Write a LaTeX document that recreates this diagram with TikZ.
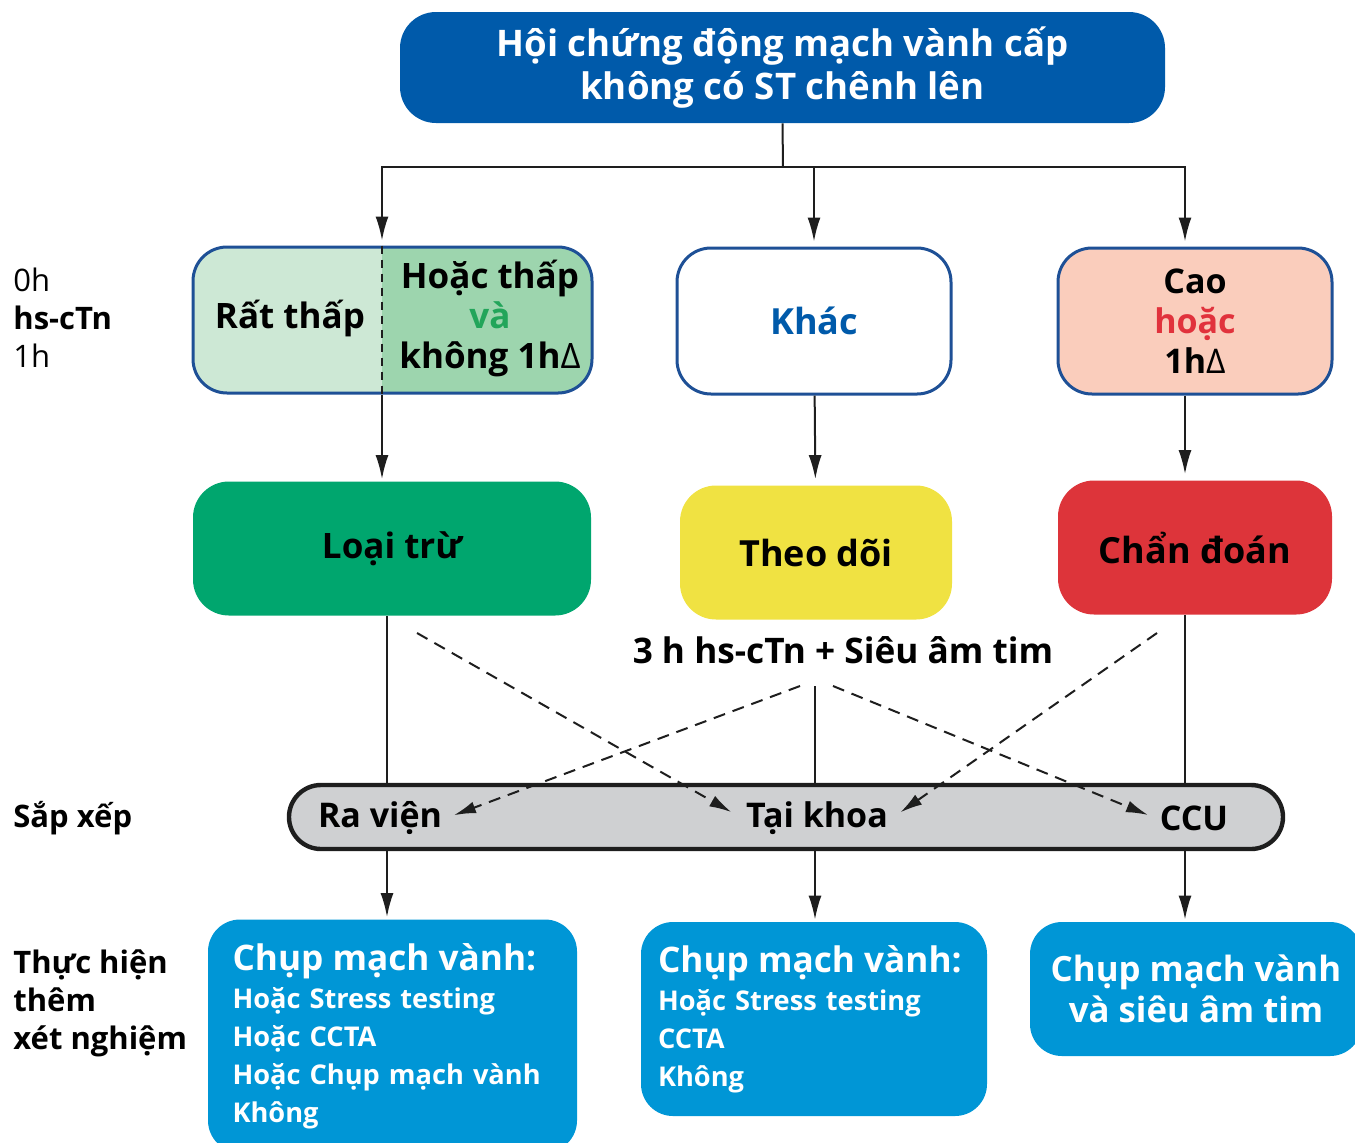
\documentclass[tikz,border=0pt]{standalone}
\usepackage{fontspec}
\setmainfont{Open Sans}
\usetikzlibrary{arrows.meta, positioning}
\definecolor{titleblue}{RGB}{0,90,170}
\definecolor{boxblue}{RGB}{30,80,150}
\definecolor{palegreen}{RGB}{205,232,213}
\definecolor{midgreen}{RGB}{157,213,174}
\definecolor{andgreen}{RGB}{34,165,90}
\definecolor{palered}{RGB}{250,205,188}
\definecolor{orred}{RGB}{225,50,60}
\definecolor{outgreen}{RGB}{0,166,110}
\definecolor{obsyellow}{RGB}{240,226,66}
\definecolor{inred}{RGB}{221,52,58}
\definecolor{bargray}{RGB}{207,208,210}
\definecolor{testblue}{RGB}{0,150,214}
\definecolor{ink}{RGB}{30,30,30}

\begin{document}
\begin{tikzpicture}[x=0.5pt, y=-0.5pt,
		font=\bfseries\color{ink},
		riskbox/.style={draw=boxblue, line width=1.5pt, rounded corners=17pt,
			minimum width=137pt, minimum height=73pt, inner sep=0pt, align=center,
			font=\bfseries\fontsize{17}{20}\selectfont},
		resbox/.style={rounded corners=18pt, minimum width=136pt, minimum height=67pt,
			inner sep=0pt, font=\bfseries\fontsize{17.5}{20}\selectfont},
		testbox/.style={fill=testblue, rounded corners=16pt, inner ysep=0pt,
			text=white, font=\bfseries\fontsize{13.6}{19}\selectfont},
		sidelabel/.style={anchor=west, align=left, inner sep=0pt,
			font=\bfseries\fontsize{15.5}{19}\selectfont},
		placelabel/.style={inner sep=2pt, font=\bfseries\fontsize{17}{20}\selectfont},
		line/.style={line width=1pt, draw=ink},
		arrow/.style={-{Latex[length=12pt, width=6.5pt]}, line width=1pt, draw=ink},
		dasharrow/.style={-{Latex[length=11pt, width=6pt]}, line width=1pt, draw=ink,
			dash pattern=on 6pt off 4pt}
	]
		\useasboundingbox (0,0) rectangle (1355,1142);
		\clip (0,0) rectangle (1355,1142);

		\node[fill=titleblue, rounded corners=18pt, minimum width=382.5pt, minimum height=55.5pt,
			inner sep=0pt, align=center, text=white, font=\bfseries\fontsize{18.3}{21.5}\selectfont]
			(title) at (782.5,67.5) {Hội chứng động mạch vành cấp\\không có ST chênh lên};

		\node[riskbox, fill=palegreen, minimum width=199.5pt,
			path picture={\fill[midgreen, sharp corners] ([xshift=-5.25pt]path picture bounding box.north)
				rectangle (path picture bounding box.south east);}]
			(lowbox) at (392.5,320) {};
		\node[font=\bfseries\fontsize{17.5}{20}\selectfont] (verylow) at (290,318) {Rất thấp};
		\node[align=center, font=\bfseries\fontsize{17.5}{20}\selectfont] (low) at (490,318)
			{Hoặc thấp\\\textcolor{andgreen}{và}\\không 1h{\mdseries Δ}};
		\node[riskbox, fill=white, text=titleblue, font=\bfseries\fontsize{18}{20}\selectfont]
			(other) at (814,321) {Khác};
		\node[riskbox, fill=palered] (high) at (1195,321)
			{Cao\\\textcolor{orred}{hoặc}\\1h{\mdseries Δ}};

		\node[resbox, fill=outgreen, minimum width=199pt] (ruleout) at (392,548.5) {Loại trừ};
		\node[resbox, fill=obsyellow, font=\bfseries\fontsize{18}{20}\selectfont] (observe) at (816,552.5) {Theo dõi};
		\node[resbox, fill=inred, minimum width=137pt, font=\bfseries\fontsize{18}{20}\selectfont] (rulein) at (1195,547.5) {Chẩn đoán};

		\node[font=\bfseries\fontsize{17.6}{20}\selectfont] (followup) at (843,650)
			{3 h hs-cTn + Siêu âm tim};

		\node[draw=ink, line width=2.2pt, fill=bargray, rounded corners=16pt,
			minimum width=497pt, minimum height=32pt] (dispo) at (786,817) {};
		\node[placelabel] (discharge) at (380,818) {Ra viện};
		\node[placelabel] (ward) at (817,818) {Tại khoa};
		\node[placelabel] (ccu) at (1194,818) {CCU};

		\node[testbox, minimum width=184.5pt, minimum height=116.5pt, text width=160pt,
			inner xsep=12.25pt, align=left] (testA) at (392.5,1036)
			{{\fontsize{17.6}{20}\selectfont Chụp mạch vành:}\\Hoặc Stress testing\\Hoặc CCTA\\
			Hoặc Chụp mạch vành\\Không};
		\node[testbox, minimum width=173pt, minimum height=97pt, text width=156pt,
			inner xsep=8.5pt, align=left] (testB) at (814,1019)
			{{\fontsize{17.6}{20}\selectfont Chụp mạch vành:}\\Hoặc Stress testing\\CCTA\\Không};
		\node[testbox, minimum width=166pt, minimum height=67pt, inner xsep=0pt, align=center,
			font=\bfseries\fontsize{17.4}{20.5}\selectfont] (testC) at (1196,989)
			{Chụp mạch vành\\và siêu âm tim};

		\node[sidelabel] (labtime) at (13,318)
			{{\mdseries 0h}\\hs-cTn\\{\mdseries 1h}};
		\node[sidelabel] (labdispo) at (13,818) {Sắp xếp};
		\node[sidelabel] (labtest) at (13,1003) {Thực hiện\\thêm\\xét nghiệm};

		\coordinate (split) at (783,167);
		\coordinate (divtop) at ([xshift=-5.25pt]lowbox.north);
		\coordinate (divbot) at ([xshift=-5.25pt]lowbox.south);
		\coordinate (hightop) at ([xshift=-5pt]high.north);
		\coordinate (outA) at (417,633);
		\coordinate (outC) at (1157,633);
		\coordinate (forkL) at (800,686);
		\coordinate (forkM) at (815,686);
		\coordinate (forkR) at (833,686);

		\draw[line] (title.south) -- (split);
		\draw[arrow, shorten >=2.5pt] (split) -| (divtop);
		\draw[arrow, shorten >=2.5pt] (split) -| (other.north);
		\draw[arrow, shorten >=2.5pt] (split) -| (hightop);
		\draw[line, dash pattern=on 4pt off 3pt] (divtop) -- (divbot);
		\draw[arrow, shorten >=1pt] (divbot) -- (divbot |- ruleout.north);
		\draw[arrow, shorten >=3pt] (other) -- (observe);
		\draw[arrow, shorten >=3pt] (high.south -| hightop) -- (rulein.north -| hightop);

		\draw[line] ([xshift=-2.5pt]ruleout.south) -- ([xshift=-2.5pt]ruleout.south |- dispo.north);
		\draw[line] (forkM) -- (forkM |- dispo.north);
		\draw[line] (rulein.south -| hightop) -- (dispo.north -| hightop);

		\draw[dasharrow, shorten >=6pt] (outA) -- (ward.west);
		\draw[dasharrow, shorten >=4pt] (forkL) -- (discharge.east);
		\draw[dasharrow, shorten >=4pt] (forkR) -- (ccu.west);
		\draw[dasharrow, shorten >=5pt] (outC) -- (ward.east);

		\draw[arrow, shorten >=1pt] ([xshift=-2.5pt]dispo.south -| ruleout.south) -- ([xshift=-2.5pt]testA.north -| ruleout.south);
		\draw[arrow, shorten >=1pt] (dispo.south -| forkM) -- (testB.north -| forkM);
		\draw[arrow, shorten >=1pt] (dispo.south -| hightop) -- (testC.north -| hightop);
	\end{tikzpicture}
\end{document}
